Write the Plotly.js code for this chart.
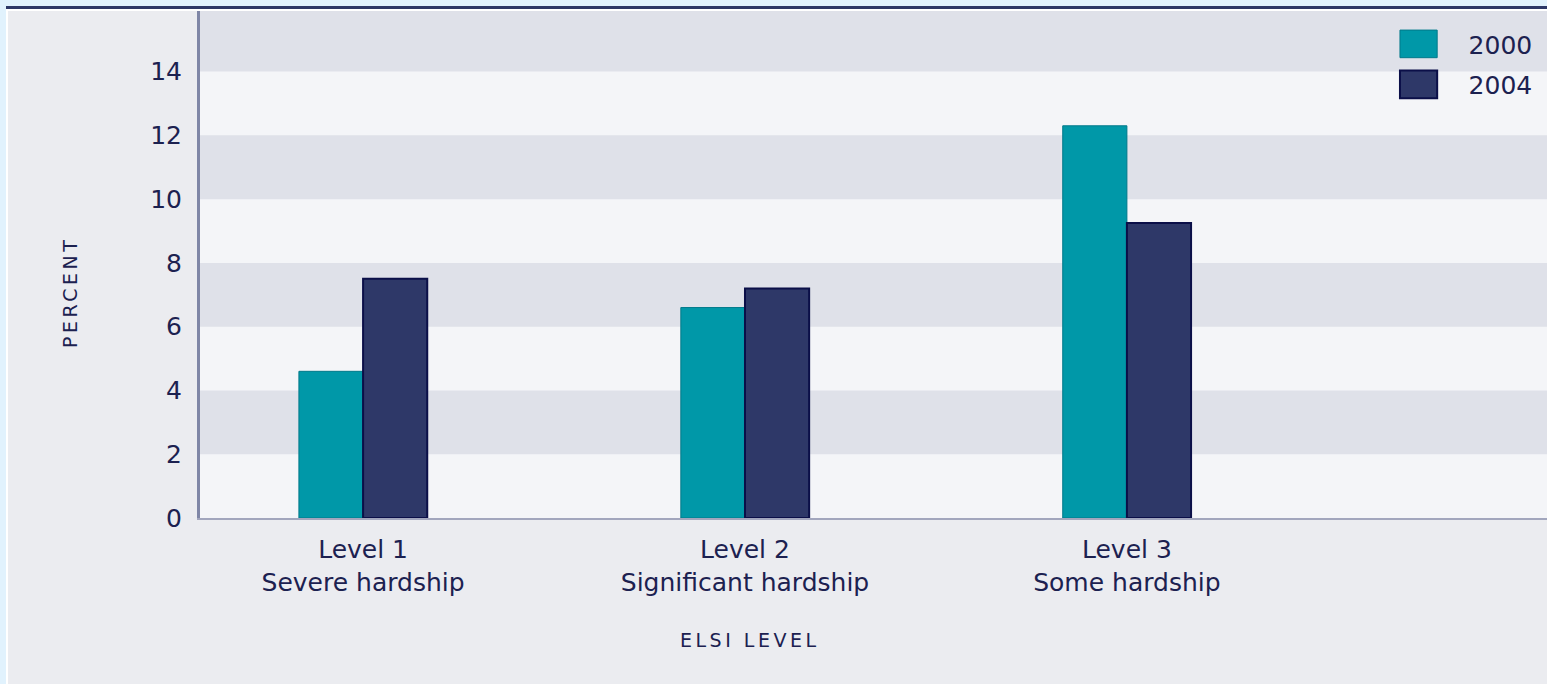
<!DOCTYPE html>
<html>
<head>
<meta charset="utf-8">
<script src="https://cdn.plot.ly/plotly-3.0.1.min.js"></script>
<style>
  html, body { margin:0; padding:0; background:#e1f2fd; width:1547px; height:684px; overflow:hidden; }
  #wrap { position:absolute; left:6px; top:6px; width:1541px; height:678px; border-top:3px solid #2d3766; background:#ffffff; }
  #plot { position:absolute; left:2px; top:2px; width:1539px; height:673px; }
  .annotation-text { letter-spacing: 3.5px; }
  .legend .scrollbox { clip-path: none !important; }
  .legendpoints path { transform: scale(3.1, 2.3); vector-effect: non-scaling-stroke; }
</style>
</head>
<body>
<div id="wrap"><div id="plot"></div></div>
<script>
const categories = ["Level 1<br>Severe hardship", "Level 2<br>Significant hardship", "Level 3<br>Some hardship"];
const seriesNames = ["2000", "2004"];
const values2000 = [4.6, 6.6, 12.3];
const values2004 = [7.5, 7.2, 9.25];
const yTicks = [0, 2, 4, 6, 8, 10, 12, 14];
const xTitle = "ELSI LEVEL";
const yTitle = "PERCENT";

const xIdx = categories.map((c, i) => i);
const textColor = "#1c2150";
const fontFam = "DejaVu Sans, sans-serif";

const traces = [
  { type: "bar", name: seriesNames[0], x: xIdx, y: values2000, legendgroup: "a",
    marker: { color: "#0098a8", line: { color: "#00798a", width: 1 } } },
  { type: "bar", name: seriesNames[1], x: xIdx, y: values2004, legendgroup: "b",
    marker: { color: "#2e3868", line: { color: "#0b0f48", width: 2 } } }
];

const bands = [];
for (let v = 2; v < 16; v += 4) {
  bands.push({ type: "rect", xref: "paper", yref: "y", x0: 0, x1: 1, y0: v, y1: v + 2,
    fillcolor: "#dfe1e9", line: { width: 0 }, layer: "below" });
}

const layout = {
  width: 1539, height: 673,
  margin: { l: 192, r: 0, t: 0, b: 166 },
  paper_bgcolor: "#ebecf0",
  plot_bgcolor: "#f4f5f8",
  font: { family: fontFam, color: textColor, size: 25 },
  barmode: "group",
  bargap: 0.664,
  bargroupgap: 0,
  showlegend: true,
  legend: { x: 0.993, xanchor: "right", y: 0.98, yanchor: "top",
    bgcolor: "rgba(0,0,0,0)", font: { size: 25, color: textColor, family: fontFam },
    traceorder: "grouped", tracegroupgap: 5, itemwidth: 40 },
  xaxis: {
    range: [-0.427, 3.10],
    tickvals: xIdx, ticktext: categories,
    tickfont: { size: 25, color: textColor, family: fontFam },
    showgrid: false, zeroline: false,
    showline: true, linecolor: "#a2a6bd", linewidth: 2,
    ticks: "", ticklabelstandoff: 8
  },
  yaxis: {
    range: [0, 15.9],
    tickvals: yTicks, ticktext: yTicks.map(String),
    tickfont: { size: 25, color: textColor, family: fontFam },
    showgrid: false, zeroline: false,
    showline: true, linecolor: "#7f86a6", linewidth: 3,
    ticks: "", ticklabelstandoff: 10
  },
  annotations: [
    { text: xTitle, xref: "paper", yref: "paper",
      x: (749 - 200) / 1347, y: (518 - 640) / 507, xanchor: "center", yanchor: "middle",
      showarrow: false, font: { size: 19, color: textColor, family: fontFam } },
    { text: yTitle, xref: "paper", yref: "paper", textangle: -90,
      x: (70 - 200) / 1347, y: (518 - 293) / 507, xanchor: "center", yanchor: "middle",
      showarrow: false, font: { size: 19, color: textColor, family: fontFam } }
  ],
  shapes: bands
};

Plotly.newPlot("plot", traces, layout, { displayModeBar: false, staticPlot: true });
</script>
</body>
</html>
